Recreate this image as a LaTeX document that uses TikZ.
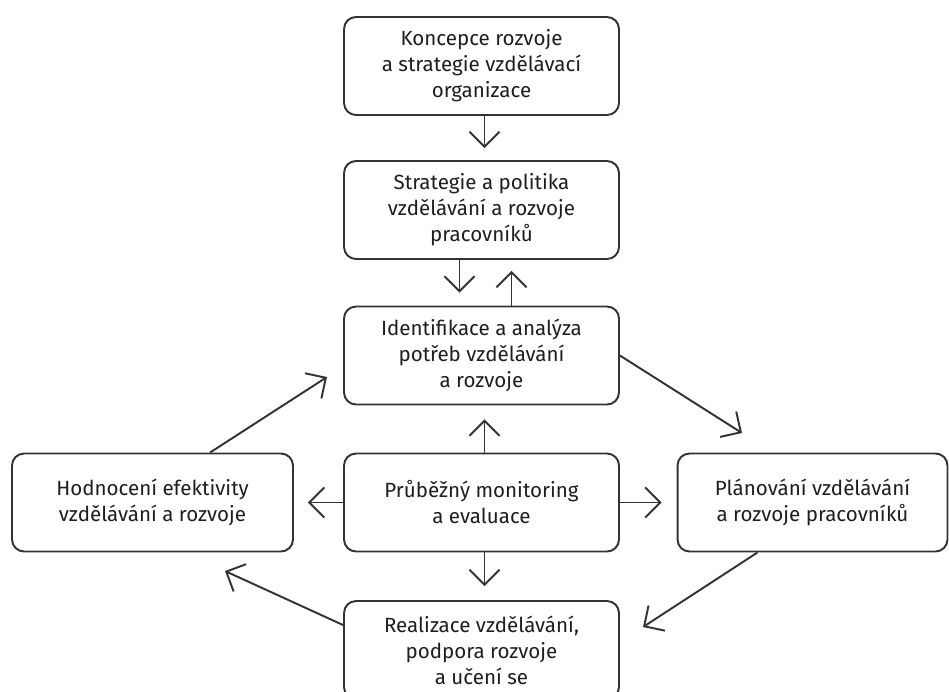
\documentclass[tikz,border=0pt]{standalone}
\usepackage{fontspec}
\setmainfont{Fira Sans}
\usetikzlibrary{arrows.meta,calc}
\definecolor{cara}{HTML}{333333}
\definecolor{pismo}{HTML}{1E1E1E}
\begin{document}
\begin{tikzpicture}[
    x=0.02cm, y=-0.02cm,
    every node/.style={draw=cara, line width=1.1pt, rounded corners=0.24cm,
        align=center, text=pismo, font=\fontsize{11.7}{14.8}\selectfont,
        minimum width=5.5cm, minimum height=1.96cm, inner sep=0pt},
    sipka/.style={draw=cara, line width=1.1pt,
        -{Straight Barb[length=0.3cm, width=0.6cm, line width=1.1pt]}}
]
\useasboundingbox (0,0) rectangle (949,691);
% sloupec
\node (konc) at (481.5,66) {Koncepce rozvoje\\a strategie vzdělávací\\organizace};
\node (strat) at (481.5,210) {Strategie a politika\\vzdělávání a rozvoje\\pracovníků};
\node (ident) at (481.5,355.5) {Identifikace a analýza\\potřeb vzdělávání\\a rozvoje};
\node (monit) at (481.5,502.5) {Průběžný monitoring\\a evaluace};
\node (real) at (481.5,650) {Realizace vzdělávání,\\podpora rozvoje\\a učení se};
% boky
\node[minimum width=5.62cm] (hodn) at (152.5,502.5) {Hodnocení efektivity\\vzdělávání a rozvoje};
\node[minimum width=5.4cm] (plan) at (812.5,502.5) {Plánování vzdělávání\\a rozvoje pracovníků};

\coordinate (hrotPlan) at (742,433);
\coordinate (hrotReal) at (643,627);
\coordinate (hrotHodn) at (225,571);
\coordinate (hrotIdent) at (327,377);

\draw[sipka, shorten >=0.24cm] ([xshift=0.06cm]konc.south) -- ([xshift=0.06cm]strat.north);
\draw[sipka, shorten >=0.26cm] ([xshift=-0.44cm]strat.south) -- ([xshift=-0.44cm]ident.north);
\draw[sipka, shorten >=0.22cm] ([xshift=0.6cm]ident.north) -- ([xshift=0.6cm]strat.south);
\draw[sipka, shorten >=0.28cm] ([xshift=0.06cm]monit.north) -- ([xshift=0.06cm]ident.south);
\draw[sipka, shorten >=0.28cm] (monit) -- (hodn);
\draw[sipka, shorten >=0.3cm] (monit) -- (plan);
\draw[sipka, shorten >=0.28cm] ([xshift=0.06cm]monit.south) -- ([xshift=0.06cm]real.north);
% kruh
\draw[sipka] (ident.east) -- (hrotPlan);
\draw[sipka] ($(plan.south)+(-55,0)$) -- (hrotReal);
\draw[sipka] ($(real.west)+(0,-25)$) -- (hrotHodn);
\draw[sipka] ($(hodn.north)+(57.5,0)$) -- (hrotIdent);
\end{tikzpicture}
\end{document}
